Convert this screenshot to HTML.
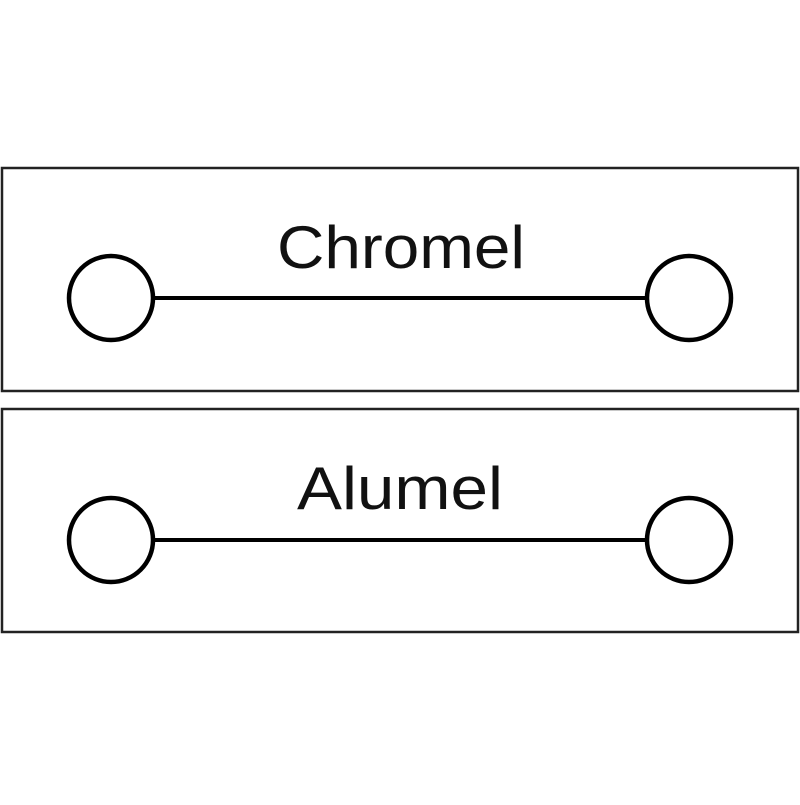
<!DOCTYPE html>
<html><head><style>body{margin:0;background:#fff}</style></head><body>
<svg width="800" height="800" viewBox="0 0 800 800" xmlns="http://www.w3.org/2000/svg">
<rect width="800" height="800" fill="#fff"/>
<g fill="none" stroke="#222" stroke-width="2.5">
<rect x="2" y="168" width="796" height="223"/>
<rect x="2" y="409" width="796" height="223"/>
</g>
<g fill="none" stroke="#000" stroke-width="4">
<line x1="154" y1="298" x2="646" y2="298"/>
<line x1="154" y1="540" x2="646" y2="540"/>
</g>
<g fill="none" stroke="#000" stroke-width="4.5">
<circle cx="111" cy="298" r="42"/>
<circle cx="689" cy="298" r="42"/>
<circle cx="111" cy="540" r="42"/>
<circle cx="689" cy="540" r="42"/>
</g>
<g font-family="Liberation Sans, sans-serif" font-size="60" fill="#111">
<text x="277" y="268" textLength="248" lengthAdjust="spacingAndGlyphs">Chromel</text>
<text x="297" y="509" textLength="206" lengthAdjust="spacingAndGlyphs">Alumel</text>
</g>
</svg>
</body></html>
